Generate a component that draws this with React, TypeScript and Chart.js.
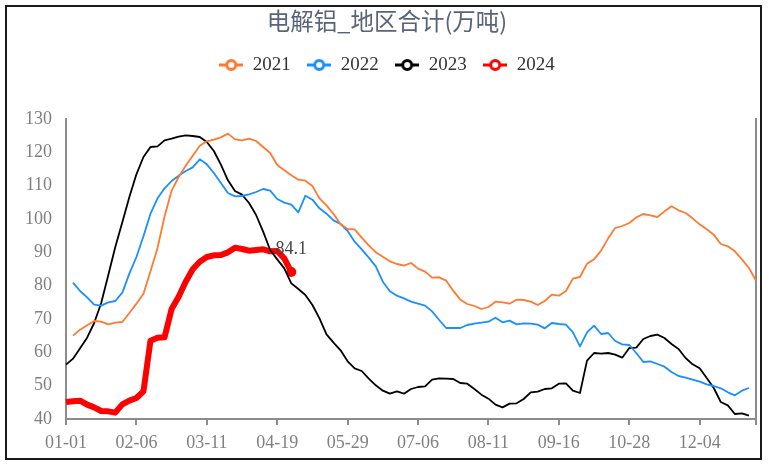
import React, { useEffect, useRef } from 'react';
import { Chart, registerables } from 'chart.js';

Chart.register(...registerables);

// x axis: one category per report date, labelled every 10th
const tickLabels = ['01-01', '02-06', '03-11', '04-19', '05-29', '07-06', '08-11', '09-16', '10-28', '12-04'];
const pointCount = 99;
const categories = Array.from({ length: pointCount }, (_, i) => (i % 10 === 0 ? tickLabels[i / 10] : ''));

const seriesNames = ['2021', '2022', '2023', '2024'];
const seriesColors = ['#ff7a30', '#1a8fff', '#000000', '#ff0000'];
const seriesWidths = [1.8, 1.8, 1.8, 6];

const s2021 = [
  null, 65.0, 66.8, 68.1, 69.4, 69.2, 68.4, 68.9, 69.1, 71.8,
  74.6, 77.6, 84.3, 91.3, 100.8, 108.5, 112.6, 116.0, 119.0, 122.0,
  123.3, 123.8, 124.5, 125.6, 123.9, 123.6, 124.1, 123.4, 121.6, 119.8,
  116.2, 114.6, 113.1, 111.8, 111.5, 109.9, 106.2, 104.1, 101.5, 98.4,
  97.0, 96.9, 94.4, 92.1, 90.0, 88.7, 87.3, 86.5, 86.0, 86.8,
  85.1, 84.2, 82.4, 82.5, 81.5, 78.5, 75.8, 74.5, 73.9, 73.0,
  73.6, 75.2, 75.0, 74.6, 75.8, 75.7, 75.2, 74.2, 75.4, 77.3,
  77.0, 78.4, 82.1, 82.6, 86.6, 87.9, 90.5, 94.2, 97.3, 97.9,
  98.8, 100.5, 101.5, 101.1, 100.6, 102.3, 103.8, 102.6, 101.8, 100.2,
  98.4, 96.9, 95.3, 92.5, 91.8, 90.3, 87.9, 85.3, 81.5,
];

const s2022 = [
  null, 80.9, 78.4, 76.5, 74.3, 74.0, 75.0, 75.4, 77.9, 83.6,
  88.6, 94.8, 101.6, 106.2, 109.2, 111.4, 113.0, 114.4, 115.5, 117.9,
  116.4, 113.8, 110.8, 107.8, 106.8, 106.9, 107.4, 108.1, 109.0, 108.5,
  106.0, 104.9, 104.3, 102.0, 107.0, 105.8, 103.2, 101.6, 99.6, 98.5,
  96.4, 93.2, 90.9, 88.4, 85.8, 81.2, 78.3, 77.0, 76.2, 75.2,
  74.6, 74.0, 72.3, 69.7, 67.3, 67.3, 67.3, 68.2, 68.6, 68.9,
  69.2, 70.4, 69.0, 69.5, 68.4, 68.7, 68.6, 68.3, 67.2, 68.8,
  68.5, 68.3, 66.0, 61.8, 66.0, 68.0, 65.5, 65.8, 63.4, 62.4,
  62.2, 59.8, 57.1, 57.3, 56.5, 55.7, 54.1, 52.9, 52.4, 51.8,
  51.2, 50.4, 49.9, 49.2, 48.0, 47.1, 48.5, 49.3,
];

const s2023 = [
  56.3, 58.1, 61.2, 64.4, 68.8, 74.8, 83.1, 91.6, 99.0, 106.6,
  113.4, 118.6, 121.6, 121.8, 123.6, 124.1, 124.7, 125.1, 124.9, 124.6,
  123.1, 120.4, 116.3, 111.6, 108.4, 107.3, 104.8, 101.2, 96.2, 90.7,
  87.9, 85.2, 80.7, 79.0, 77.2, 74.2, 70.2, 65.4, 62.9, 60.6,
  57.3, 55.2, 54.4, 52.1, 50.1, 48.5, 47.6, 48.3, 47.6, 49.0,
  49.6, 49.8, 51.8, 52.2, 52.1, 52.0, 50.8, 50.6, 49.0, 47.3,
  46.1, 44.3, 43.5, 44.6, 44.7, 46.0, 48.0, 48.2, 49.0, 49.2,
  50.6, 50.7, 48.5, 47.8, 57.5, 59.8, 59.6, 59.8, 59.3, 58.4,
  61.3, 61.4, 64.0, 64.9, 65.3, 64.3, 62.5, 61.0, 58.3, 56.4,
  55.2, 52.3, 49.3, 45.1, 44.1, 41.5, 41.7, 41.0,
];

const s2024 = [
  45.1, 45.3, 45.5, 44.3, 43.5, 42.4, 42.3, 41.9, 44.4, 45.5,
  46.3, 48.3, 63.5, 64.4, 64.5, 73.0, 76.7, 81.2, 84.9, 87.2,
  88.6, 89.1, 89.2, 90.0, 91.4, 91.0, 90.5, 90.7, 90.9, 90.3,
  90.4, 88.2, 84.1,
];

const yTicks = [40, 50, 60, 70, 80, 90, 100, 110, 120, 130];

const axisGray = '#8c8c8c';
const serif = '"Liberation Serif", "DejaVu Serif", serif';

// legend symbol: short line with a hollow circle
function makeMarker(color: string) {
  const c = document.createElement('canvas');
  c.width = 24;
  c.height = 14;
  const ctx = c.getContext('2d');
  if (ctx) {
    ctx.strokeStyle = color;
    ctx.lineWidth = 3;
    ctx.beginPath();
    ctx.moveTo(0, 7);
    ctx.lineTo(24, 7);
    ctx.stroke();
    ctx.beginPath();
    ctx.arc(12, 7, 4.5, 0, Math.PI * 2);
    ctx.fillStyle = '#ffffff';
    ctx.fill();
    ctx.stroke();
  }
  return c;
}

// push the plot area down below the legend
const legendGap = {
  id: 'legendGap',
  beforeLayout(chart: any) {
    const lg = chart.legend;
    if (!lg || lg._gapPatched) return;
    const fit = lg.fit;
    lg.fit = function () {
      fit.call(this);
      this.height += 34.5;
    };
    lg._gapPatched = true;
  },
};

// value label on the last 2024 point
const lastValueLabel = {
  id: 'lastValueLabel',
  afterDatasetsDraw(chart: any) {
    const meta = chart.getDatasetMeta(3);
    const last = s2024.length - 1;
    const pt = meta.data[last];
    if (!pt) return;
    const ctx = chart.ctx;
    ctx.save();
    ctx.font = `18px ${serif}`;
    ctx.fillStyle = '#444444';
    ctx.textAlign = 'center';
    ctx.textBaseline = 'middle';
    ctx.fillText(s2024[last].toFixed(1), pt.x, pt.y - 23);
    ctx.restore();
  },
};

const InventoryChart: React.FC = () => {
  const chartRef = useRef<HTMLCanvasElement>(null);
  const chartInstance = useRef<Chart | null>(null);

  useEffect(() => {
    document.body.style.margin = '0';
    if (!chartRef.current) return;
    if (chartInstance.current) chartInstance.current.destroy();

    const markers = seriesColors.map(makeMarker);
    const series = [s2021, s2022, s2023, s2024];
    const lastRed = s2024.length - 1;

    chartInstance.current = new Chart(chartRef.current, {
      type: 'line',
      data: {
        labels: categories,
        datasets: series.map((values, i) => ({
          label: seriesNames[i],
          data: values,
          borderColor: seriesColors[i],
          backgroundColor: seriesColors[i],
          borderWidth: seriesWidths[i],
          tension: 0,
          spanGaps: false,
          pointRadius: i === 3 ? (c: any) => (c.dataIndex === lastRed ? 5 : 0) : 0,
          pointBorderWidth: 0,
          pointHoverRadius: 0,
          borderJoinStyle: 'round' as const,
        })),
      },
      options: {
        responsive: false,
        animation: false,
        layout: { padding: { left: 18, right: 13, top: 0, bottom: 0 } },
        plugins: {
          title: {
            display: true,
            text: '电解铝_地区合计(万吨)',
            color: '#5a6478',
            font: { family: '"Noto Sans CJK SC", sans-serif', size: 23.5, weight: 'normal' },
            padding: { top: 7, bottom: 3.8 },
          },
          legend: {
            display: true,
            position: 'top',
            labels: {
              usePointStyle: true,
              pointStyleWidth: 24,
              padding: 16.5,
              color: '#333333',
              font: { family: serif, size: 19 },
              generateLabels: (chart: any) =>
                chart.data.datasets.map((ds: any, i: number) => ({
                  text: ds.label,
                  pointStyle: markers[i],
                  fillStyle: seriesColors[i],
                  strokeStyle: seriesColors[i],
                  lineWidth: 0,
                  hidden: false,
                  datasetIndex: i,
                  fontColor: '#333333',
                })),
            },
          },
          tooltip: { enabled: false },
        },
        scales: {
          x: {
            type: 'category',
            offset: false,
            grid: {
              display: true,
              drawOnChartArea: false,
              drawTicks: true,
              tickLength: 6,
              lineWidth: 2,
              color: (c: any) =>
                c.index % 10 === 0 || c.index === pointCount - 1 ? axisGray : 'rgba(0,0,0,0)',
            },
            border: { display: true, color: axisGray, width: 2 },
            ticks: {
              autoSkip: false,
              maxRotation: 0,
              padding: 7,
              color: '#808080',
              font: { family: serif, size: 18 },
              callback: (_v: any, idx: number) => categories[idx],
            },
            afterFit: (s: any) => {
              s.height = 48;
            },
          },
          y: {
            min: 40,
            max: 130,
            afterBuildTicks: (s: any) => {
              s.ticks = yTicks.map((v) => ({ value: v }));
            },
            grid: { display: false, drawTicks: false },
            border: { display: true, color: axisGray, width: 2 },
            ticks: {
              padding: 14,
              color: '#808080',
              font: { family: serif, size: 18 },
            },
            afterFit: (s: any) => {
              s.width = 48;
            },
          },
          y2: {
            position: 'right',
            min: 40,
            max: 130,
            grid: { display: false, drawTicks: false },
            border: { display: true, color: axisGray, width: 2 },
            ticks: { display: false },
            afterFit: (s: any) => {
              s.width = 0;
            },
          },
        },
      },
      plugins: [legendGap, lastValueLabel],
    } as any);

    return () => {
      if (chartInstance.current) {
        chartInstance.current.destroy();
        chartInstance.current = null;
      }
    };
  }, []);

  return (
    <div style={{ position: 'relative', width: 769, height: 467, background: '#ffffff' }}>
      <canvas ref={chartRef} width={769} height={467} style={{ display: 'block' }} />
      <div
        style={{
          position: 'absolute',
          left: 5,
          top: 5,
          width: 757,
          height: 455,
          boxSizing: 'border-box',
          border: '2px solid #1a1a1a',
          pointerEvents: 'none',
        }}
      />
    </div>
  );
};

export default function App() {
  return <InventoryChart />;
}
